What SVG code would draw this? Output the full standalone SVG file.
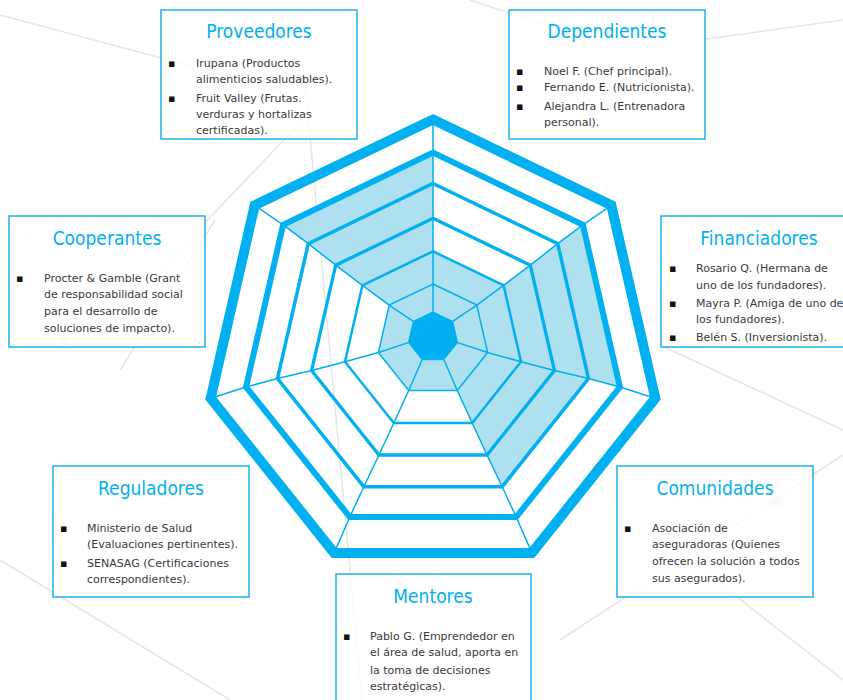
<svg xmlns="http://www.w3.org/2000/svg" width="843" height="700" viewBox="0 0 843 700">
<defs>
<style>
.bg{fill:none;stroke:#e6e6e6;stroke-width:1.5}
.dot{fill:#d8d8d8}
.shade{fill:#AEE0EF;stroke:none}
.spoke{fill:none;stroke:#00B0F0;stroke-width:1.5}
.ring{fill:none;stroke:#00B0F0;stroke-linejoin:miter;stroke-miterlimit:10}
.core{fill:#00B0F0;stroke:#00B0F0;stroke-width:1}
.box{fill:#ffffff;fill-opacity:0.8;stroke:#1DB1EE;stroke-width:1.5}
.title{font-family:"DejaVu Sans Condensed","DejaVu Sans",sans-serif;font-size:19px;fill:#00B0F0;text-anchor:middle}
.body{font-family:"DejaVu Sans",sans-serif;font-size:11px;fill:#3a3a3a}
.bul{font-family:"DejaVu Sans",sans-serif;font-size:11px;fill:#111}
</style>
<filter id="blur" x="-50%" y="-50%" width="200%" height="200%"><feGaussianBlur stdDeviation="2"/></filter>
</defs>
<rect width="843" height="700" fill="#ffffff"/>
<g id="background">
<line class="bg" x1="0" y1="15" x2="300" y2="95"/>
<line class="bg" x1="303" y1="60" x2="362" y2="700"/>
<line class="bg" x1="300" y1="123" x2="160" y2="270"/>
<line class="bg" x1="215" y1="220" x2="120" y2="370"/>
<line class="bg" x1="0" y1="560" x2="230" y2="700"/>
<line class="bg" x1="560" y1="640" x2="843" y2="455"/>
<line class="bg" x1="690" y1="560" x2="843" y2="680"/>
<line class="bg" x1="660" y1="345" x2="843" y2="430"/>
<line class="bg" x1="470" y1="0" x2="560" y2="30"/>
<line class="bg" x1="700" y1="40" x2="843" y2="20"/>
<circle class="dot" cx="300" cy="80" r="6" filter="url(#blur)"/>
<circle class="dot" cx="775" cy="502" r="5" filter="url(#blur)"/>
<circle class="dot" cx="28" cy="235" r="3" filter="url(#blur)"/>
<circle class="dot" cx="65" cy="342" r="3" filter="url(#blur)"/>
</g>
<g id="radar">
<g id="shading">
<polygon class="shade" points="413.3,321.3 389.2,305.1 362.4,285.3 335.7,265.2 308.3,243.6 283.1,224.8 433,152.6 433,311.8"/>
<polygon class="shade" points="433,311.8 433,251.3 503.6,285.3 476.8,305.1 452.7,321.3"/>
<polygon class="shade" points="452.7,321.3 476.8,305.1 503.6,285.3 530.3,265.2 557.7,243.6 582.9,224.8 619.9,387.0 588.5,378.5 554.4,370.5 521.0,361.7 487.6,352.5 457.6,342.6"/>
<polygon class="shade" points="457.6,342.6 487.6,352.5 521.0,361.7 554.4,370.5 588.5,378.5 502.2,486.7 487.0,455.0 472.2,423.0 457.3,390.5 443.9,359.7"/>
<polygon class="shade" points="443.9,359.7 457.3,390.5 408.7,390.5 422.1,359.7"/>
<polygon class="shade" points="422.1,359.7 408.7,390.5 378.4,352.5 408.4,342.6"/>
<polygon class="shade" points="408.4,342.6 378.4,352.5 389.2,305.1 413.3,321.3"/>
</g>
<g id="spokes">
<polyline class="spoke" points="433,311.8 433,119.5"/>
<polyline class="spoke" points="452.7,321.3 476.8,305.1 503.6,285.3 530.3,265.2 557.7,243.6 582.9,224.8 611.3,205.3"/>
<polyline class="spoke" points="457.6,342.6 487.6,352.5 521.0,361.7 554.4,370.5 588.5,378.5 619.9,387.0 655.3,398.2"/>
<polyline class="spoke" points="443.9,359.7 457.3,390.5 472.2,423.0 487.0,455.0 502.2,486.7 516.2,517.0 531.9,552.9"/>
<polyline class="spoke" points="422.1,359.7 408.7,390.5 393.8,423.0 379.0,455.0 363.8,486.7 349.8,517.0 334.1,552.9"/>
<polyline class="spoke" points="408.4,342.6 378.4,352.5 345.0,361.7 311.6,370.5 277.5,378.5 246.1,387.0 210.7,398.2"/>
<polyline class="spoke" points="413.3,321.3 389.2,305.1 362.4,285.3 335.7,265.2 308.3,243.6 283.1,224.8 254.7,205.3"/>
</g>
<g id="rings">
<polygon class="ring" stroke-width="1.5" points="433,284 476.8,305.1 487.6,352.5 457.3,390.5 408.7,390.5 378.4,352.5 389.2,305.1"/>
<polygon class="ring" stroke-width="2.5" points="433,251.3 503.6,285.3 521.0,361.7 472.2,423.0 393.8,423.0 345.0,361.7 362.4,285.3"/>
<polygon class="ring" stroke-width="3.3" points="433,218.3 530.3,265.2 554.4,370.5 487.0,455.0 379.0,455.0 311.6,370.5 335.7,265.2"/>
<polygon class="ring" stroke-width="3.5" points="433,183.5 557.7,243.6 588.5,378.5 502.2,486.7 363.8,486.7 277.5,378.5 308.3,243.6"/>
<polygon class="ring" stroke-width="6" points="433,152.6 582.9,224.8 619.9,387.0 516.2,517.0 349.8,517.0 246.1,387.0 283.1,224.8"/>
<polygon class="ring" stroke-width="10" points="433,119.5 611.3,205.3 655.3,398.2 531.9,552.9 334.1,552.9 210.7,398.2 254.7,205.3"/>
</g>
<polygon id="core" class="core" points="433,311.8 452.7,321.3 457.6,342.6 443.9,359.7 422.1,359.7 408.4,342.6 413.3,321.3"/>
</g>
<g id="proveedores">
<rect class="box" x="161" y="10" width="196" height="129"/>
<text class="title" x="259" y="38">Proveedores</text>
<text class="bul" x="168" y="67">▪</text>
<text class="bul" x="168" y="102">▪</text>
<text class="body" x="196" y="67">Irupana (Productos</text>
<text class="body" x="196" y="83">alimenticios saludables).</text>
<text class="body" x="196" y="102">Fruit Valley (Frutas.</text>
<text class="body" x="196" y="118">verduras y hortalizas</text>
<text class="body" x="196" y="134">certificadas).</text>
</g>
<g id="dependientes">
<rect class="box" x="509" y="10" width="196" height="129"/>
<text class="title" x="607" y="38">Dependientes</text>
<text class="bul" x="516" y="75">▪</text>
<text class="bul" x="516" y="91">▪</text>
<text class="bul" x="516" y="110">▪</text>
<text class="body" x="544" y="75">Noel F. (Chef principal).</text>
<text class="body" x="544" y="91">Fernando E. (Nutricionista).</text>
<text class="body" x="544" y="110">Alejandra L. (Entrenadora</text>
<text class="body" x="544" y="126">personal).</text>
</g>
<g id="financiadores">
<rect class="box" x="661" y="216" width="196" height="131"/>
<text class="title" x="759" y="245">Financiadores</text>
<text class="bul" x="669" y="272">▪</text>
<text class="bul" x="669" y="306.5">▪</text>
<text class="bul" x="669" y="341">▪</text>
<text class="body" x="696" y="272">Rosario Q. (Hermana de</text>
<text class="body" x="696" y="289">uno de los fundadores).</text>
<text class="body" x="696" y="306.5">Mayra P. (Amiga de uno de</text>
<text class="body" x="696" y="323">los fundadores).</text>
<text class="body" x="696" y="341">Belén S. (Inversionista).</text>
</g>
<g id="cooperantes">
<rect class="box" x="9" y="216" width="196" height="131"/>
<text class="title" x="107" y="245">Cooperantes</text>
<text class="bul" x="16" y="282">▪</text>
<text class="body" x="44" y="282">Procter &amp; Gamble (Grant</text>
<text class="body" x="44" y="298">de responsabilidad social</text>
<text class="body" x="44" y="314.5">para el desarrollo de</text>
<text class="body" x="44" y="331.5">soluciones de impacto).</text>
</g>
<g id="reguladores">
<rect class="box" x="53" y="466" width="196" height="131"/>
<text class="title" x="151" y="495">Reguladores</text>
<text class="bul" x="60" y="531.5">▪</text>
<text class="bul" x="60" y="566.5">▪</text>
<text class="body" x="87" y="531.5">Ministerio de Salud</text>
<text class="body" x="87" y="547.5">(Evaluaciones pertinentes).</text>
<text class="body" x="87" y="566.5">SENASAG (Certificaciones</text>
<text class="body" x="87" y="582.5">correspondientes).</text>
</g>
<g id="comunidades">
<rect class="box" x="617" y="466" width="196" height="131"/>
<text class="title" x="715" y="495">Comunidades</text>
<text class="bul" x="624" y="531.5">▪</text>
<text class="body" x="652" y="531.5">Asociación de</text>
<text class="body" x="652" y="548">aseguradoras (Quienes</text>
<text class="body" x="652" y="565">ofrecen la solución a todos</text>
<text class="body" x="652" y="581.5">sus asegurados).</text>
</g>
<g id="mentores">
<rect class="box" x="336" y="574" width="195" height="140"/>
<text class="title" x="433" y="603">Mentores</text>
<text class="bul" x="343" y="639.5">▪</text>
<text class="body" x="370" y="639.5">Pablo G. (Emprendedor en</text>
<text class="body" x="370" y="656">el área de salud, aporta en</text>
<text class="body" x="370" y="673.5">la toma de decisiones</text>
<text class="body" x="370" y="690">estratégicas).</text>
</g>
</svg>
